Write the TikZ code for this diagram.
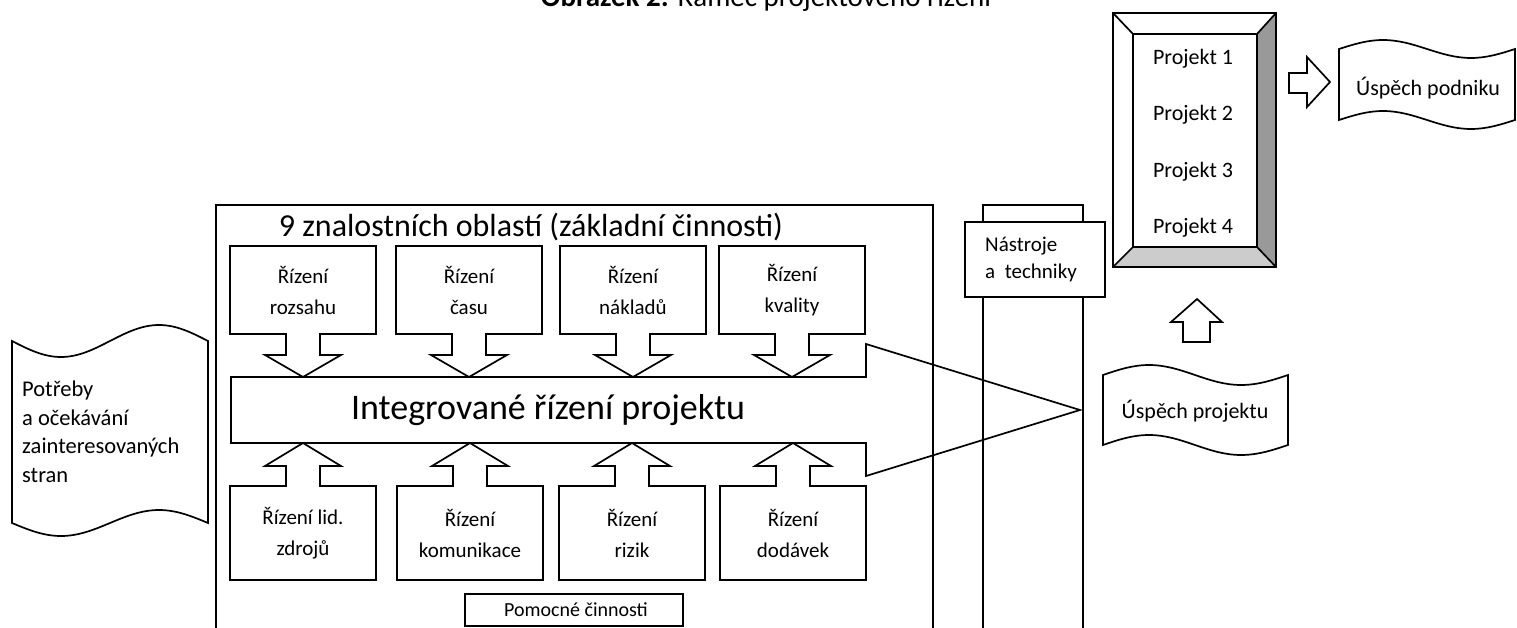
\documentclass[tikz,border=0pt]{standalone}
\usepackage{fontspec}
\setmainfont{Carlito}
\begin{document}
\begin{tikzpicture}[x=1pt,y=-1pt,line join=miter,
  outl/.style={draw=black,line width=1.7pt},
  txt/.style={inner sep=0pt,align=center,font=\fontsize{21}{31}\selectfont},
  big/.style={inner sep=0pt,font=\fontsize{22}{28.5}\selectfont},
  downcall/.pic={\draw[outl] (-73,0) -- (73,0) -- (73,88) -- (17,88) -- (17,109) -- (38,109) -- (0,131) -- (-38,109) -- (-17,109) -- (-17,88) -- (-73,88) -- cycle;},
  upcall/.pic={\draw[outl] (-73,0) -- (-17,0) -- (-17,-20) -- (-38,-20) -- (0,-43) -- (38,-20) -- (17,-20) -- (17,0) -- (73,0) -- (73,94) -- (-73,94) -- cycle;}]
\useasboundingbox (0,0) rectangle (1517,628);
\clip (0,0) rectangle (1517,628);

% caption
\node[anchor=base,inner sep=0pt,font=\fontsize{29}{34}\selectfont] (title) at (766,7)
  {\textbf{Obrázek 2:} Rámec projektového řízení};

% knowledge areas frame and tools column
\draw[outl] (216,700) -- (216,205) -- (933,205) -- (933,700);
\draw[outl] (983,700) -- (983,205) -- (1083,205) -- (1083,700);
\draw[outl,fill=white] (965,222) rectangle (1105,297);
\node[big,align=left,anchor=north west,font=\fontsize{21}{27}\selectfont] (tools) at (985,237) {Nástroje\\a\ \ techniky};

\node[anchor=base,inner sep=0pt,font=\fontsize{32}{38}\selectfont] (areas) at (531,237)
  {9 znalostních oblastí (základní činnosti)};

% integration box with pointer
\draw[outl] (231,377) -- (866,377) -- (866,344) -- (1080,410) -- (866,476) -- (866,443) -- (231,443) -- cycle;
\node[inner sep=0pt,font=\fontsize{36}{40}\selectfont] (integ) at (548,410) {Integrované řízení projektu};

% core processes
\pic at (303,246) {downcall};
\pic at (469,246) {downcall};
\pic at (633,246) {downcall};
\pic at (792,246) {downcall};
\node[txt] (scope) at (303,290) {Řízení\\rozsahu};
\node[txt] (time) at (469,290) {Řízení\\času};
\node[txt] (cost) at (633,290) {Řízení\\nákladů};
\node[txt] (quality) at (792,290) {Řízení\\kvality};

% supporting processes
\pic at (303,486) {upcall};
\pic at (470,486) {upcall};
\pic at (632,486) {upcall};
\pic at (793,486) {upcall};
\node[txt] (hr) at (303,533) {Řízení lid.\\zdrojů};
\node[txt] (comm) at (470,533) {Řízení\\komunikace};
\node[txt] (risk) at (632,533) {Řízení\\rizik};
\node[txt] (proc) at (793,533) {Řízení\\dodávek};
\draw[outl] (465,594) rectangle (683,626);
\node[txt,font=\fontsize{20}{24}\selectfont] (support) at (576,610) {Pomocné činnosti};

% stakeholder needs scroll
\draw[outl] (12,341) sin (61,357) cos (110,341) sin (159,325) cos (208,341) -- (208,523)
  sin (159,510) cos (110,523) sin (61,536) cos (12,523) -- cycle;
\node[big,align=left,anchor=west,font=\fontsize{22.5}{28.5}\selectfont] (needs) at (22,432)
  {Potřeby\\a očekávání\\zainteresovaných\\stran};

% project success tape
\draw[outl] (1103,375) sin (1149,365) cos (1195,375) sin (1241,385) cos (1288,375) -- (1288,445)
  sin (1241,455) cos (1195,445) sin (1149,435) cos (1103,445) -- cycle;
\node[big] (psucc) at (1195,411) {Úspěch projektu};

% arrow up to portfolio
\draw[outl] (1183,342) -- (1183,322) -- (1171,322) -- (1197,299) -- (1222,322) -- (1210,322) -- (1210,342) -- cycle;

% portfolio frame (bevel)
\fill[white] (1113,13) -- (1276,13) -- (1257,34) -- (1133,34) -- cycle;
\fill[black!40] (1276,13) -- (1276,267) -- (1257,247) -- (1257,34) -- cycle;
\fill[black!20] (1113,267) -- (1276,267) -- (1257,247) -- (1133,247) -- cycle;
\draw[outl] (1113,13) rectangle (1276,267);
\draw[outl] (1133,34) rectangle (1257,247);
\draw[outl] (1113,13) -- (1133,34) (1276,13) -- (1257,34) (1113,267) -- (1133,247) (1276,267) -- (1257,247);
\node[big] (p1) at (1193,59) {Projekt 1};
\node[big] (p2) at (1193,115) {Projekt 2};
\node[big] (p3) at (1193,172) {Projekt 3};
\node[big] (p4) at (1193,228) {Projekt 4};

% arrow to business success
\draw[outl] (1289,73) -- (1307,73) -- (1307,57) -- (1330,82) -- (1307,107) -- (1307,93) -- (1289,93) -- cycle;

% business success tape
\draw[outl] (1339,49) sin (1383,40) cos (1427,49) sin (1471,58) cos (1515,49) -- (1515,120)
  sin (1471,129) cos (1427,120) sin (1383,111) cos (1339,120) -- cycle;
\node[big] (bsucc) at (1428,88) {Úspěch podniku};
\end{tikzpicture}
\end{document}
